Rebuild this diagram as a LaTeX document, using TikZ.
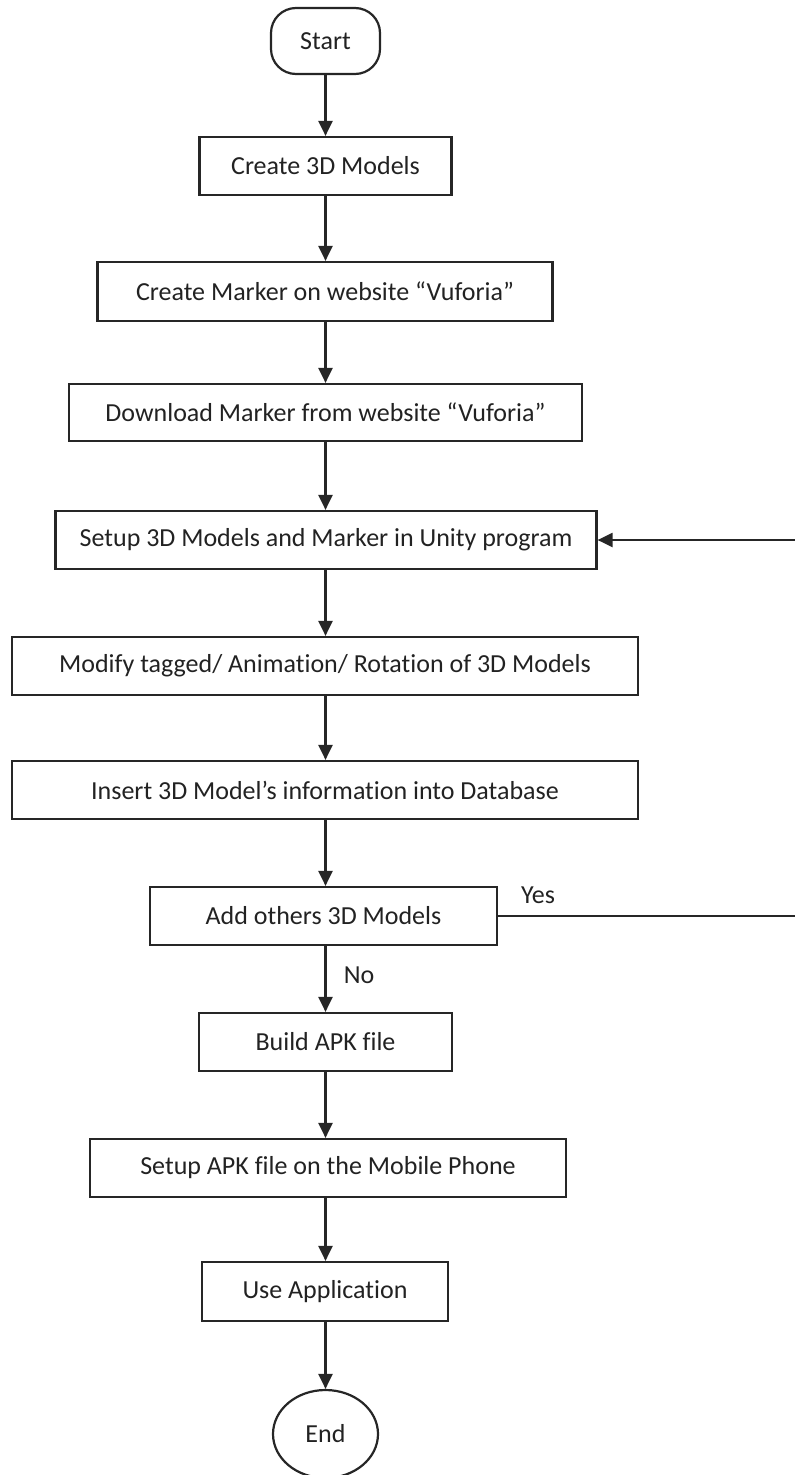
\documentclass[tikz,border=0pt]{standalone}
\usepackage{fontspec}
\setmainfont{Carlito}[Ligatures=NoCommon]
\usetikzlibrary{arrows.meta,shapes.geometric}
\definecolor{linec}{HTML}{262626}
\definecolor{textc}{HTML}{222222}
\begin{document}
\begin{tikzpicture}[x=1pt,y=-1pt,
  box/.style={draw=linec, line width=2.2pt, rectangle, inner sep=0pt, text=textc,
    font=\fontsize{26}{30}\selectfont},
  term/.style={box, rounded corners=25pt},
  endshape/.style={box, ellipse},
  arr/.style={draw=linec, line width=2.2pt, -{Triangle[width=14pt,length=15pt]}},
  lbl/.style={inner sep=0pt, text=textc, font=\fontsize{26}{30}\selectfont},
]
\useasboundingbox (0,0) rectangle (795,1475);
\coordinate (sp) at (325.5,0);
\coordinate (rt) at (798,0);

\node[term, minimum width=109pt, minimum height=66pt] (start) at (325.5,41) {Start};
\node[box, minimum width=252pt, minimum height=58pt] (c3d) at (325.5,166) {Create 3D Models};
\node[box, minimum width=455pt, minimum height=59pt] (cmk) at (325,291.5) {Create Marker on website “Vuforia”};
\node[box, minimum width=513pt, minimum height=57pt] (dl) at (325.5,412.5) {Download Marker from website “Vuforia”};
\node[box, minimum width=541pt, minimum height=58pt] (setup) at (326,540) {Setup 3D Models and Marker in Unity program};
\node[box, minimum width=626pt, minimum height=58pt] (mod) at (325,666) {Modify tagged/ Animation/ Rotation of 3D Models};
\node[box, minimum width=626pt, minimum height=58pt] (ins) at (325,790) {Insert 3D Model’s information into Database};
\node[box, minimum width=347pt, minimum height=58pt] (add) at (323.5,916) {Add others 3D Models};
\node[box, minimum width=253pt, minimum height=58pt] (build) at (325.5,1042) {Build APK file};
\node[box, minimum width=476pt, minimum height=58pt] (sapk) at (328,1168) {Setup APK file on the Mobile Phone};
\node[box, minimum width=246pt, minimum height=59pt] (use) at (325,1291.5) {Use Application};
\node[endshape, minimum width=105pt, minimum height=88pt] (end) at (325.5,1434) {End};

\node[lbl] (yes) at (538,895) {Yes};
\node[lbl] (no) at (359,975) {No};

\draw[arr] (start.south -| sp) -- (c3d.north -| sp);
\draw[arr] (c3d.south -| sp) -- (cmk.north -| sp);
\draw[arr] (cmk.south -| sp) -- (dl.north -| sp);
\draw[arr] (dl.south -| sp) -- (setup.north -| sp);
\draw[arr] (setup.south -| sp) -- (mod.north -| sp);
\draw[arr] (mod.south -| sp) -- (ins.north -| sp);
\draw[arr] (ins.south -| sp) -- (add.north -| sp);
\draw[arr] (add.south -| sp) -- (build.north -| sp);
\draw[arr] (build.south -| sp) -- (sapk.north -| sp);
\draw[arr] (sapk.south -| sp) -- (use.north -| sp);
\draw[arr] (use.south -| sp) -- (end.north);
\draw[arr] (add.east) -- (add.east -| rt) -- (setup.east -| rt) -- (setup.east);
\end{tikzpicture}
\end{document}
